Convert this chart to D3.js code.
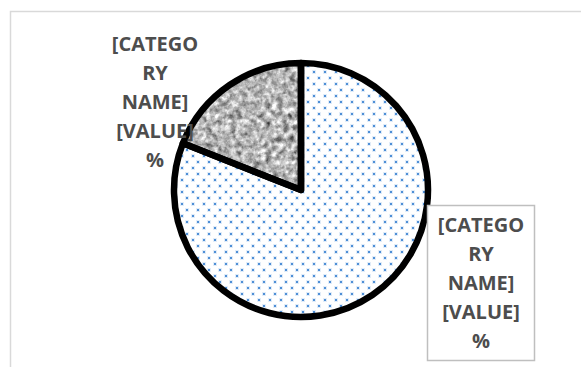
<!DOCTYPE html>
<html>
<head>
<meta charset="utf-8">
<script src="https://cdn.jsdelivr.net/npm/d3@7"></script>
<style>
  html, body { margin: 0; padding: 0; background: #fff; }
  svg { display: block; }
</style>
</head>
<body>
<div id="chart"></div>
<script>
// slices, clockwise from 12 o'clock
const categories = ["Series A", "Series B"];
const values = [81, 19];
const fills = ["url(#dots)", "#a6a6a6"];
// label text as it wraps in the picture
const labelLines = ["[CATEGO", "RY", "NAME]", "[VALUE]", "%"];

const width = 581, height = 367;
const cx = 301, cy = 190, r = 127;

const svg = d3.select("#chart").append("svg")
    .attr("width", width)
    .attr("height", height);

const defs = svg.append("defs");

// 5% dotted pattern
const pat = defs.append("pattern")
    .attr("id", "dots")
    .attr("patternUnits", "userSpaceOnUse")
    .attr("width", 22)
    .attr("height", 12);
pat.append("rect").attr("width", 22).attr("height", 12).attr("fill", "#fff");
[[1, 1], [12, 1], [6, 7], [17, 7]].forEach(([x, y]) => {
  pat.append("rect").attr("x", x - 1).attr("y", y - 1).attr("width", 4).attr("height", 4).attr("fill", "#e1ecf8");
  pat.append("rect").attr("x", x).attr("y", y).attr("width", 2).attr("height", 2).attr("fill", "#4f8fd6");
});

// granite texture
const f = defs.append("filter")
    .attr("id", "granite")
    .attr("x", 0).attr("y", 0).attr("width", "100%").attr("height", "100%")
    .attr("color-interpolation-filters", "sRGB");
f.append("feTurbulence")
    .attr("type", "fractalNoise")
    .attr("baseFrequency", 0.17)
    .attr("numOctaves", 3)
    .attr("seed", 7)
    .attr("result", "noise");
f.append("feColorMatrix")
    .attr("in", "noise")
    .attr("type", "matrix")
    .attr("values", "0.33 0.33 0.33 0 0  0.33 0.33 0.33 0 0  0.33 0.33 0.33 0 0  0 0 0 0 1")
    .attr("result", "gray");
const ct = f.append("feComponentTransfer").attr("in", "gray").attr("result", "contrast");
["feFuncR", "feFuncG", "feFuncB"].forEach(fn =>
  ct.append(fn).attr("type", "linear").attr("slope", 1.9).attr("intercept", -0.23));
f.append("feGaussianBlur").attr("in", "contrast").attr("stdDeviation", 0.6).attr("result", "soft");
f.append("feComposite").attr("in", "soft").attr("in2", "SourceGraphic").attr("operator", "in");

// chart area border
svg.append("rect")
    .attr("x", 10.5).attr("y", 11.5)
    .attr("width", 620).attr("height", 400)
    .attr("fill", "none")
    .attr("stroke", "#d9d9d9")
    .attr("stroke-width", 1.5);

const pie = d3.pie().sort(null).value(d => d);
const arcs = pie(values);
const arc = d3.arc().innerRadius(0).outerRadius(r);

const g = svg.append("g").attr("transform", `translate(${cx},${cy})`);

g.selectAll("path.fill")
  .data(arcs)
  .join("path")
    .attr("class", "fill")
    .attr("d", arc)
    .attr("fill", (d, i) => fills[i])
    .attr("filter", (d, i) => i === 1 ? "url(#granite)" : null);

g.selectAll("path.edge")
  .data(arcs)
  .join("path")
    .attr("class", "edge")
    .attr("d", arc)
    .attr("fill", "none")
    .attr("stroke", "#000")
    .attr("stroke-width", 6.5)
    .attr("stroke-linejoin", "round");

// data labels
const labels = [
  { x: 155, y: 51, box: false },   // gray slice
  { x: 481, y: 232, box: true }    // dotted slice
];
const lineH = 29;

labels.forEach(l => {
  const lg = svg.append("g");
  if (l.box) {
    lg.append("rect")
        .attr("x", 427.5).attr("y", 205.5)
        .attr("width", 107).attr("height", 155)
        .attr("fill", "#fff")
        .attr("stroke", "#bfbfbf")
        .attr("stroke-width", 1.5);
  }
  lg.selectAll("text")
    .data(labelLines)
    .join("text")
      .attr("x", l.x)
      .attr("y", (d, i) => l.y + i * lineH)
      .attr("text-anchor", "middle")
      .attr("font-family", "'Open Sans', sans-serif")
      .attr("font-weight", "bold")
      .attr("font-size", 20)
      .attr("fill", "#4d4d4d")
      .text(d => d);
});
</script>
</body>
</html>
